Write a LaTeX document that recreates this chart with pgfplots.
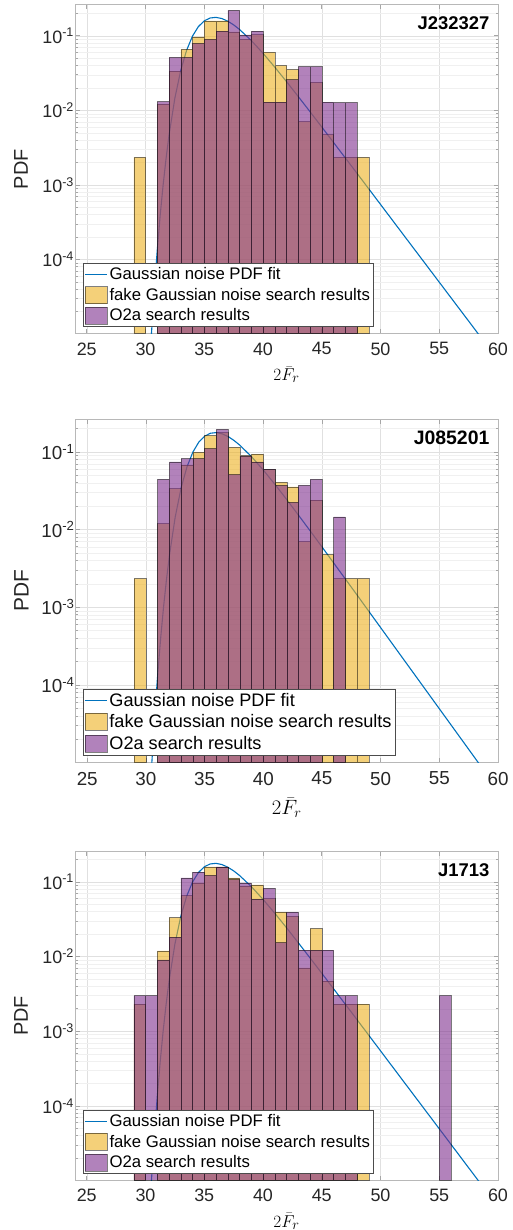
\documentclass[border=0pt]{standalone}
\usepackage[no-math]{fontspec}
\setmainfont{Liberation Sans}
\usepackage{pgfplots}
\usepackage{pgfplotstable}
\pgfplotsset{compat=1.18}
\definecolor{myblue}{rgb}{0,0.447,0.741}
\definecolor{myyellow}{rgb}{0.929,0.694,0.125}
\definecolor{mypurple}{rgb}{0.494,0.184,0.556}

\pgfplotstableread{
x y
30.3 2.73e-6
30.4 5.24e-6
30.5 9.68e-6
30.6 1.72e-5
30.8 5.07e-5
31.0 1.33e-4
31.25 3.90e-4
31.5 9.98e-4
31.75 2.26e-3
32.0 4.62e-3
32.5 1.46e-2
33.0 3.44e-2
33.5 0.0640
34.0 0.0991
34.5 0.1328
35.0 0.1587
35.5 0.1734
36.0 0.1767
36.5 0.1703
37.0 0.1572
37.5 0.1402
38.0 0.1217
39.0 0.0865
40.0 0.0583
41.0 0.0380
42.0 0.0243
43.0 0.01531
44.0 9.59e-3
45.0 5.98e-3
46.0 3.71e-3
48.0 1.43e-3
50.0 5.47e-4
52.0 2.09e-4
54.0 8.0e-5
56.0 3.06e-5
58.0 1.17e-5
59.0 7.2e-6
}\fitdata

\pgfplotsset{
  panel/.style={
    scale only axis, width=423bp, height=328.3bp,
    xmin=24, xmax=60, ymin=1.02e-5, ymax=0.259,
    log origin y=infty,
    xtick={25,30,35,40,45,50,55,60},
    xticklabels={25,30,35,40,45,50,55,60},
    ytick={1e-4,1e-3,1e-2,1e-1},
    yticklabels={10\textsuperscript{-4},10\textsuperscript{-3},10\textsuperscript{-2},10\textsuperscript{-1}},
    minor ytick={2e-5,3e-5,4e-5,5e-5,6e-5,7e-5,8e-5,9e-5,2e-4,3e-4,4e-4,5e-4,6e-4,7e-4,8e-4,9e-4,2e-3,3e-3,4e-3,5e-3,6e-3,7e-3,8e-3,9e-3,2e-2,3e-2,4e-2,5e-2,6e-2,7e-2,8e-2,9e-2,0.2},
    minor x tick num=0,
    grid=both,
    major grid style={black!12, line width=0.5bp},
    minor grid style={black!6, line width=0.4bp},
    axis line style={black!28, line width=1bp},
    tick style={black!35, line width=0.6bp},
    major tick length=4.5bp, minor tick length=2.5bp,
    tick align=inside,
    tick label style={font=\fontsize{18}{20}\selectfont, color=black!85},
    yticklabel style={xshift=2.5bp},
    xticklabel style={inner sep=1bp, yshift=-8bp},
    xlabel={$2\bar{F}_r$},
    ylabel={PDF},
    xlabel style={font=\fontsize{19}{21}\selectfont, inner sep=0pt, at={(axis description cs:0.5,-0.126)}, anchor=center},
    ylabel style={font=\fontsize{20}{22}\selectfont, color=black!85, at={(axis description cs:-0.1277,0.5)}, anchor=center},
    legend cell align=left,
    legend style={at={(axis description cs:0.018,0.02)}, anchor=south west,
      draw=black!70, line width=0.6bp, fill=white,
      font=\fontsize{16.8}{19}\selectfont,
      inner xsep=1.5bp, inner ysep=2bp, row sep=3bp},
  },
  fitline/.style={color=myblue, line width=1.1bp, no marks,
    legend image code/.code={\draw[color=myblue, line width=1.1bp] (0bp,0bp) -- (22bp,0bp);}},
  ybars/.style={ybar, bar shift=0pt, bar width=1, fill=myyellow, fill opacity=0.6,
    draw=black, draw opacity=0.5, line width=0.5bp,
    legend image code/.code={\draw[fill=myyellow, fill opacity=0.6, draw=black, draw opacity=0.5, line width=0.5bp] (0bp,-8.5bp) rectangle (22bp,8.5bp);}},
  pbars/.style={ybar, bar shift=0pt, bar width=1, fill=mypurple, fill opacity=0.6,
    draw=black, draw opacity=0.5, line width=0.5bp,
    legend image code/.code={\draw[fill=mypurple, fill opacity=0.6, draw=black, draw opacity=0.5, line width=0.5bp] (0bp,-8.5bp) rectangle (22bp,8.5bp);}},
}

\begin{document}
\begin{tikzpicture}
\useasboundingbox (0bp,0bp) rectangle (513bp,1230bp);

% ---------- Panel 1 ----------
\begin{semilogyaxis}[panel, at={(75bp,896.7bp)}, anchor=south west]
\addplot[fitline] table[x=x,y=y] {\fitdata};
\addlegendentry{Gaussian noise PDF fit}
\addplot[ybars] coordinates {(29.5,0.00233) (31.5,0.0121) (32.5,0.0335) (33.5,0.0655) (34.5,0.097) (35.5,0.159) (36.5,0.159) (37.5,0.113) (38.5,0.0893) (39.5,0.104) (40.5,0.0597) (41.5,0.0399) (42.5,0.0352) (43.5,0.00705) (44.5,0.0238) (45.5,0.00471) (46.5,0.00233) (47.5,0.00233) (48.5,0.00233)};
\addlegendentry{fake Gaussian noise search results}
\addplot[pbars] coordinates {(31.5,0.0131) (32.5,0.0512) (33.5,0.0512) (34.5,0.0789) (35.5,0.0893) (36.5,0.1155) (37.5,0.219) (38.5,0.103) (39.5,0.1155) (40.5,0.0129) (41.5,0.0129) (42.5,0.0259) (43.5,0.0387) (44.5,0.0387) (45.5,0.0129) (46.5,0.0127) (47.5,0.0127)};
\addlegendentry{O2a search results}
\node[anchor=east, yshift=-18.5bp, font=\bfseries\fontsize{18.5}{20}\selectfont] at (rel axis cs:0.988,1) {J232327};
\end{semilogyaxis}

% ---------- Panel 2 ----------
\begin{semilogyaxis}[panel, at={(75.5bp,467.3bp)}, anchor=south west,
  width=422.5bp, height=343.4bp, ymin=1.0e-5, ymax=0.262,
  tick label style={font=\fontsize{18.9}{21}\selectfont, color=black!85},
  xlabel style={font=\fontsize{20}{22}\selectfont, inner sep=0pt, at={(axis description cs:0.5,-0.131)}, anchor=center},
  ylabel style={font=\fontsize{21}{23}\selectfont, at={(axis description cs:-0.1277,0.5)}, anchor=center},
  legend style={at={(axis description cs:0.0166,0.022)}, font=\fontsize{18.2}{20}\selectfont}]
\addplot[fitline] table[x=x,y=y] {\fitdata};
\addlegendentry{Gaussian noise PDF fit}
\addplot[ybars] coordinates {(29.5,0.00234) (31.5,0.0119) (32.5,0.0337) (33.5,0.0673) (34.5,0.098) (35.5,0.161) (36.5,0.176) (37.5,0.114) (38.5,0.089) (39.5,0.0933) (40.5,0.059) (41.5,0.0403) (42.5,0.0354) (43.5,0.0070) (44.5,0.0239) (45.5,0.00476) (46.5,0.00234) (47.5,0.00234) (48.5,0.00234)};
\addlegendentry{fake Gaussian noise search results}
\addplot[pbars] coordinates {(31.5,0.0441) (32.5,0.0743) (33.5,0.082) (34.5,0.082) (35.5,0.110) (36.5,0.194) (37.5,0.051) (38.5,0.088) (39.5,0.0743) (40.5,0.0595) (41.5,0.0369) (42.5,0.0223) (43.5,0.0369) (44.5,0.0441) (46.5,0.0146)};
\addlegendentry{O2a search results}
\node[anchor=east, yshift=-19bp, font=\bfseries\fontsize{19.5}{21}\selectfont] at (rel axis cs:0.988,1) {J085201};
\end{semilogyaxis}

% ---------- Panel 3 ----------
\begin{semilogyaxis}[panel, at={(75bp,50bp)}, anchor=south west, ymin=1.02e-5, ymax=0.253]
\addplot[fitline] table[x=x,y=y] {\fitdata};
\addlegendentry{Gaussian noise PDF fit}
\addplot[ybars] coordinates {(29.5,0.00231) (31.5,0.0119) (32.5,0.0331) (33.5,0.0655) (34.5,0.097) (35.5,0.159) (36.5,0.158) (37.5,0.113) (38.5,0.0875) (39.5,0.091) (40.5,0.0597) (41.5,0.0394) (42.5,0.0345) (43.5,0.00705) (44.5,0.0236) (45.5,0.00471) (46.5,0.00231) (47.5,0.00231) (48.5,0.00231)};
\addlegendentry{fake Gaussian noise search results}
\addplot[pbars] coordinates {(29.5,0.00299) (30.5,0.00299) (31.5,0.0090) (32.5,0.0182) (33.5,0.113) (34.5,0.135) (35.5,0.1217) (36.5,0.159) (37.5,0.107) (38.5,0.097) (39.5,0.0585) (40.5,0.082) (41.5,0.0154) (42.5,0.0394) (43.5,0.0122) (44.5,0.0122) (45.5,0.0122) (46.5,0.00299) (47.5,0.00299) (55.5,0.00299)};
\addlegendentry{O2a search results}
\node[anchor=east, yshift=-18bp, font=\bfseries\fontsize{18.5}{20}\selectfont] at (rel axis cs:0.988,1) {J1713};
\end{semilogyaxis}
\end{tikzpicture}
\end{document}
